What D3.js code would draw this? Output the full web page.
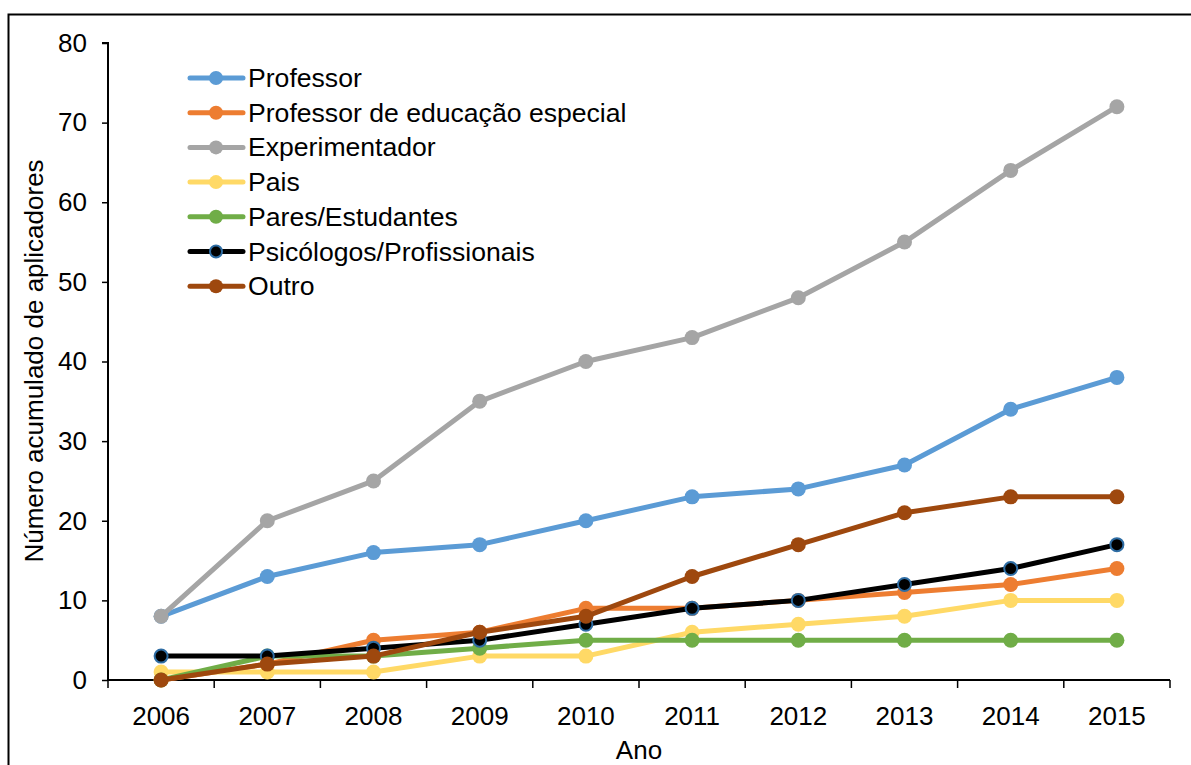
<!DOCTYPE html>
<html><head><meta charset="utf-8">
<script src="https://cdn.jsdelivr.net/npm/d3@7"></script>
<style>body{margin:0;background:#fff}svg{display:block}text{font-family:"Liberation Sans",Arial,sans-serif}</style>
</head><body><svg id="c" width="1191" height="765"></svg>
<script>
const years = ["2006","2007","2008","2009","2010","2011","2012","2013","2014","2015"];
const seriesNames = ["Professor","Professor de educação especial","Experimentador","Pais","Pares/Estudantes","Psicólogos/Profissionais","Outro"];
const professor = [8,13,16,17,20,23,24,27,34,38];
const profEspecial = [0,2,5,6,9,9,10,11,12,14];
const experimentador = [8,20,25,35,40,43,48,55,64,72];
const pais = [1,1,1,3,3,6,7,8,10,10];
const pares = [0,3,3,4,5,5,5,5,5,5];
const psicologos = [3,3,4,5,7,9,10,12,14,17];
const outro = [0,2,3,6,8,13,17,21,23,23];
const yTicks = [0,10,20,30,40,50,60,70,80];

const colors = ["#5B9BD5","#ED7D31","#A5A5A5","#FFD966","#70AD47","#000000","#9E480E"];
const markerStroke = [null,null,null,null,null,"#2E6DA4",null];
const allValues = [professor,profEspecial,experimentador,pais,pares,psicologos,outro];
const FS = 26;

const svg = d3.select("#c");
svg.append("rect").attr("x",8.5).attr("y",14.5).attr("width",1200).attr("height",800)
  .attr("fill","none").attr("stroke","#000").attr("stroke-width",2);

const pLeft=108, pRight=1170, pTop=43, pBottom=680;
const x = d3.scaleBand().domain(years).range([pLeft,pRight]);
const y = d3.scaleLinear().domain([0,80]).range([pBottom,pTop]);

// axes
const yAxis = svg.append("g").attr("transform",`translate(${pLeft},0)`)
  .call(d3.axisLeft(y).tickValues(yTicks).tickSize(6).tickPadding(8));
yAxis.select(".domain").attr("stroke","#000").attr("stroke-width",2).attr("d",`M-6,${pTop}H0V${pBottom}`);
yAxis.selectAll(".tick line").attr("stroke","#000").attr("stroke-width",1.5);
yAxis.selectAll("text").attr("font-size",FS).attr("fill","#000").attr("dx","-7").attr("font-family","Liberation Sans, Arial, sans-serif");

const xAxis = svg.append("g").attr("transform",`translate(0,${pBottom})`);
xAxis.append("line").attr("x1",pLeft).attr("x2",pRight).attr("y1",0).attr("y2",0).attr("stroke","#000").attr("stroke-width",2);
const bounds = years.map(d=>x(d)).concat([pRight]);
xAxis.selectAll("line.t").data(bounds).join("line").attr("class","t")
  .attr("x1",d=>d).attr("x2",d=>d).attr("y1",0).attr("y2",8).attr("stroke","#000").attr("stroke-width",1.5);
xAxis.selectAll("text").data(years).join("text")
  .attr("x",d=>x(d)+x.bandwidth()/2).attr("y",45).attr("text-anchor","middle")
  .attr("font-size",FS).attr("fill","#000").text(d=>d);

svg.append("text").attr("x",639).attr("y",759).attr("text-anchor","middle").attr("font-size",FS).text("Ano");
svg.append("text").attr("transform","translate(43,361) rotate(-90)").attr("text-anchor","middle").attr("font-size",FS).text("Número acumulado de aplicadores");

const line = d3.line().x((d,i)=>x(years[i])+x.bandwidth()/2).y(d=>y(d));
allValues.forEach((vals,k)=>{
  const g = svg.append("g");
  g.append("path").datum(vals).attr("d",line).attr("fill","none").attr("stroke",colors[k]).attr("stroke-width",5).attr("stroke-linejoin","round");
  g.selectAll("circle").data(vals).join("circle")
    .attr("cx",(d,i)=>x(years[i])+x.bandwidth()/2).attr("cy",d=>y(d)).attr("r",markerStroke[k]?6.5:7.5)
    .attr("fill",colors[k]).attr("stroke",markerStroke[k]||"none").attr("stroke-width",markerStroke[k]?2:0);
});

// legend
const lg = svg.append("g");
seriesNames.forEach((n,k)=>{
  const yy = 78 + k*34.7;
  lg.append("line").attr("x1",190).attr("x2",243).attr("y1",yy).attr("y2",yy).attr("stroke",colors[k]).attr("stroke-width",5).attr("stroke-linecap","round");
  lg.append("circle").attr("cx",216).attr("cy",yy).attr("r",markerStroke[k]?6:7).attr("fill",colors[k])
    .attr("stroke",markerStroke[k]||"none").attr("stroke-width",markerStroke[k]?2:0);
  lg.append("text").attr("x",248).attr("y",yy+9).attr("font-size",26.6).attr("fill","#000").text(n);
});
</script></body></html>
